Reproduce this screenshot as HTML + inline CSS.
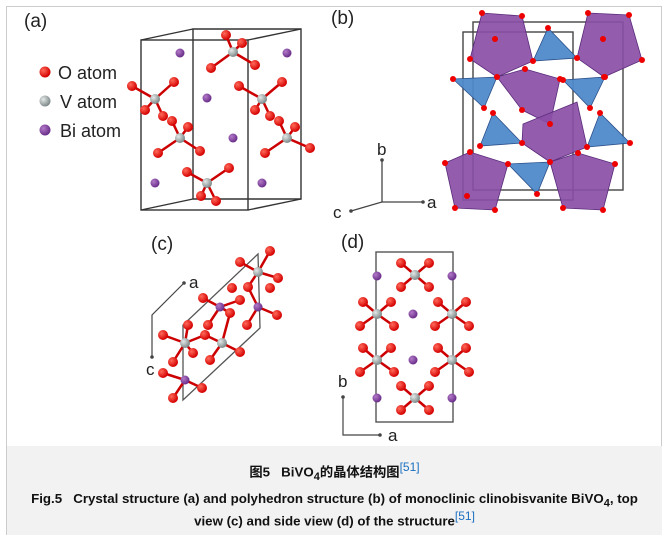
<!DOCTYPE html>
<html><head><meta charset="utf-8"><style>
body{margin:0;background:#fff;width:669px;height:542px;overflow:hidden;font-family:"Liberation Sans","Noto Sans CJK SC",sans-serif}
.frame{position:absolute;left:6px;top:6px;width:656px;height:529px;border:1px solid #ccc;box-sizing:border-box}
.cap{position:absolute;left:7px;top:446px;width:655px;height:89px;background:#f2f2f2}
.t{position:absolute;left:0;width:655px;text-align:center;font-weight:bold;font-size:13.3px;color:#111;white-space:nowrap}
sup{color:#1a6fc0;font-weight:normal;font-size:12px}
</style></head><body>
<div class="frame"></div>
<svg width="669" height="446" style="position:absolute;left:0;top:0" font-family="Liberation Sans, sans-serif">
<defs>
<radialGradient id="o" cx="35%" cy="35%" r="65%"><stop offset="0" stop-color="#ff6a5a"/><stop offset="1" stop-color="#d40000"/></radialGradient>
<radialGradient id="v" cx="35%" cy="35%" r="65%"><stop offset="0" stop-color="#e4e8e8"/><stop offset="1" stop-color="#7f8a8a"/></radialGradient>
<radialGradient id="b" cx="35%" cy="35%" r="65%"><stop offset="0" stop-color="#b27ac8"/><stop offset="1" stop-color="#6a2e8a"/></radialGradient>
</defs>
<!-- panel a -->
<text x="24" y="27" font-size="19" fill="#222">(a)</text>
<circle cx="45" cy="72" r="5.5" fill="url(#o)"/><text x="58" y="79" font-size="18" fill="#222">O atom</text>
<circle cx="45" cy="101" r="5.5" fill="url(#v)"/><text x="60" y="108" font-size="18" fill="#222">V atom</text>
<circle cx="45" cy="130" r="5.5" fill="url(#b)"/><text x="60" y="137" font-size="18" fill="#222">Bi atom</text>
<g stroke="#333" stroke-width="1.4" fill="none">
<rect x="141" y="40" width="107" height="170"/>
<polyline points="193,199 193,29 301,29 301,199 193,199"/>
<line x1="141" y1="40" x2="193" y2="29"/><line x1="248" y1="40" x2="301" y2="29"/>
<line x1="141" y1="210" x2="193" y2="199"/><line x1="248" y1="210" x2="301" y2="199"/>
</g>
<g fill="url(#b)"><circle cx="180" cy="53" r="4.5"/><circle cx="287" cy="53" r="4.5"/><circle cx="207" cy="98" r="4.5"/><circle cx="233" cy="138" r="4.5"/><circle cx="155" cy="183" r="4.5"/><circle cx="262" cy="183" r="4.5"/></g>
<g stroke="#c00" stroke-width="2.5">
<path d="M233 52L226 35M233 52L242 43M233 52L211 68M233 52L255 65"/>
<path d="M155 99L132 86M155 99L174 82M155 99L145 110M155 99L163 116"/>
<path d="M180 138L188 127M180 138L158 153M180 138L200 151M180 138L172 121"/>
<path d="M262 99L239 86M262 99L282 82M262 99L255 110M262 99L270 116"/>
<path d="M287 138L295 127M287 138L265 153M287 138L310 148M287 138L279 121"/>
<path d="M207 183L187 172M207 183L229 168M207 183L201 196M207 183L216 201"/>
</g>
<g fill="url(#o)">
<circle cx="226" cy="35" r="5"/><circle cx="242" cy="43" r="5"/><circle cx="211" cy="68" r="5"/><circle cx="255" cy="65" r="5"/>
<circle cx="132" cy="86" r="5"/><circle cx="174" cy="82" r="5"/><circle cx="145" cy="110" r="5"/><circle cx="163" cy="116" r="5"/><circle cx="172" cy="121" r="5"/>
<circle cx="188" cy="127" r="5"/><circle cx="158" cy="153" r="5"/><circle cx="200" cy="151" r="5"/>
<circle cx="239" cy="86" r="5"/><circle cx="282" cy="82" r="5"/><circle cx="255" cy="110" r="5"/><circle cx="270" cy="116" r="5"/><circle cx="279" cy="121" r="5"/>
<circle cx="295" cy="127" r="5"/><circle cx="265" cy="153" r="5"/><circle cx="310" cy="148" r="5"/>
<circle cx="187" cy="172" r="5"/><circle cx="229" cy="168" r="5"/><circle cx="201" cy="196" r="5"/><circle cx="216" cy="201" r="5"/>
</g>
<g fill="url(#v)"><circle cx="233" cy="52" r="5"/><circle cx="155" cy="99" r="5"/><circle cx="180" cy="138" r="5"/><circle cx="262" cy="99" r="5"/><circle cx="287" cy="138" r="5"/><circle cx="207" cy="183" r="5"/></g>

<!-- panel b -->
<text x="331" y="24" font-size="19" fill="#222">(b)</text>
<g stroke="#444" stroke-width="1.4" fill="none">
<rect x="463" y="32" width="110" height="168"/>
<rect x="473" y="22" width="150" height="168"/>
</g>
<g stroke="#5a2a7a" stroke-width="0.8" fill="#8a4ea6" fill-opacity="0.92">
<polygon points="482,13 522,16 533,61 497,77 470,59"/>
<polygon points="588,13 629,15 642,60 604,77 577,58"/>
<polygon points="525,69 560,79 550,124 522,110 497,77"/>
<polygon points="577,102 587,147 550,162 522,143 523,124"/>
<polygon points="445,163 470,152 508,164 495,210 455,208"/>
<polygon points="550,162 578,153 615,164 603,210 563,208"/>
</g>
<g stroke="#2a4f8a" stroke-width="0.8" fill="#4f8acb" fill-opacity="0.95">
<polygon points="533,61 548,28 577,58"/>
<polygon points="453,79 497,77 484,108"/>
<polygon points="563,80 605,77 590,108"/>
<polygon points="493,113 522,143 480,146"/>
<polygon points="600,113 630,143 587,147"/>
<polygon points="508,164 550,162 537,194"/>
</g>
<g fill="#e00">
<circle cx="482" cy="13" r="3"/><circle cx="522" cy="16" r="3"/><circle cx="533" cy="61" r="3"/><circle cx="497" cy="77" r="3"/><circle cx="470" cy="59" r="3"/><circle cx="495" cy="39" r="3"/>
<circle cx="588" cy="13" r="3"/><circle cx="629" cy="15" r="3"/><circle cx="642" cy="60" r="3"/><circle cx="604" cy="77" r="3"/><circle cx="577" cy="58" r="3"/><circle cx="603" cy="39" r="3"/>
<circle cx="525" cy="69" r="3"/><circle cx="560" cy="79" r="3"/><circle cx="522" cy="110" r="3"/><circle cx="548" cy="28" r="3"/>
<circle cx="453" cy="79" r="3"/><circle cx="484" cy="108" r="3"/><circle cx="563" cy="80" r="3"/><circle cx="605" cy="77" r="3"/><circle cx="590" cy="108" r="3"/>
<circle cx="493" cy="113" r="3"/><circle cx="522" cy="143" r="3"/><circle cx="480" cy="146" r="3"/><circle cx="550" cy="124" r="3"/>
<circle cx="600" cy="113" r="3"/><circle cx="630" cy="143" r="3"/><circle cx="587" cy="147" r="3"/>
<circle cx="445" cy="163" r="3"/><circle cx="470" cy="152" r="3"/><circle cx="508" cy="164" r="3"/><circle cx="495" cy="210" r="3"/><circle cx="455" cy="208" r="3"/><circle cx="467" cy="196" r="3"/>
<circle cx="550" cy="162" r="3"/><circle cx="578" cy="153" r="3"/><circle cx="615" cy="164" r="3"/><circle cx="603" cy="210" r="3"/><circle cx="563" cy="208" r="3"/><circle cx="537" cy="194" r="3"/>
</g>
<g stroke="#444" stroke-width="1.3"><line x1="382" y1="202" x2="382" y2="160"/><line x1="382" y1="202" x2="423" y2="202"/><line x1="382" y1="202" x2="351" y2="211"/></g>
<g fill="#444"><circle cx="382" cy="160" r="1.8"/><circle cx="423" cy="202" r="1.8"/><circle cx="351" cy="211" r="1.8"/></g>
<text x="377" y="155" font-size="17" fill="#222">b</text>
<text x="427" y="208" font-size="17" fill="#222">a</text>
<text x="333" y="218" font-size="17" fill="#222">c</text>

<!-- panel c -->
<text x="151" y="250" font-size="19" fill="#222">(c)</text>
<polygon points="258,254 183,325 183,400 260,328" fill="none" stroke="#555" stroke-width="1.3"/>
<polyline points="184,283 152,315 152,357" fill="none" stroke="#444" stroke-width="1.2"/>
<circle cx="184" cy="283" r="1.8" fill="#444"/><circle cx="152" cy="357" r="1.8" fill="#444"/>
<text x="189" y="288" font-size="17" fill="#222">a</text>
<text x="146" y="375" font-size="17" fill="#222">c</text>
<g stroke="#c00" stroke-width="2.5">
<path d="M258 272L270 251M258 272L240 262M258 272L278 278M258 272L248 287"/>
<path d="M220 307L203 298M220 307L240 300M220 307L230 313M220 307L208 325M258 307L277 315M258 307L247 325M258 307L248 287"/>
<path d="M185 343L163 335M185 343L205 335M185 343L193 353M185 343L173 362M185 343L188 325"/>
<path d="M222 343L240 352M222 343L210 360M222 343L205 335M222 343L230 313"/>
<path d="M185 380L163 373M185 380L202 388M185 380L173 398"/>
</g>
<g fill="url(#o)">
<circle cx="270" cy="251" r="5"/><circle cx="240" cy="262" r="5"/><circle cx="278" cy="278" r="5"/><circle cx="248" cy="287" r="5"/><circle cx="270" cy="288" r="5"/><circle cx="232" cy="288" r="5"/>
<circle cx="203" cy="298" r="5"/><circle cx="240" cy="300" r="5"/><circle cx="230" cy="313" r="5"/><circle cx="277" cy="315" r="5"/><circle cx="208" cy="325" r="5"/><circle cx="247" cy="325" r="5"/>
<circle cx="188" cy="325" r="5"/><circle cx="163" cy="335" r="5"/><circle cx="205" cy="335" r="5"/><circle cx="193" cy="353" r="5"/><circle cx="240" cy="352" r="5"/><circle cx="173" cy="362" r="5"/>
<circle cx="210" cy="360" r="5"/><circle cx="163" cy="373" r="5"/><circle cx="202" cy="388" r="5"/><circle cx="173" cy="398" r="5"/>
</g>
<g fill="url(#v)"><circle cx="258" cy="272" r="5"/><circle cx="185" cy="343" r="5"/><circle cx="222" cy="343" r="5"/></g>
<g fill="url(#b)"><circle cx="220" cy="307" r="4.5"/><circle cx="258" cy="307" r="4.5"/><circle cx="185" cy="380" r="4.5"/></g>

<!-- panel d -->
<text x="341" y="248" font-size="19" fill="#222">(d)</text>
<rect x="376" y="252" width="77" height="170" fill="none" stroke="#555" stroke-width="1.4"/>
<polyline points="343,397 343,435 380,435" fill="none" stroke="#444" stroke-width="1.2"/>
<circle cx="343" cy="397" r="1.8" fill="#444"/><circle cx="380" cy="435" r="1.8" fill="#444"/>
<text x="338" y="387" font-size="17" fill="#222">b</text>
<text x="388" y="441" font-size="17" fill="#222">a</text>
<g stroke="#c00" stroke-width="2.5">
<path d="M415 275l-14 -12M415 275l14 -12M415 275l-14 12M415 275l14 12"/>
<path d="M377 314l-14 -12M377 314l14 -12M377 314l-17 12M377 314l17 12"/>
<path d="M452 314l-14 -12M452 314l14 -12M452 314l-17 12M452 314l17 12"/>
<path d="M377 360l-14 -12M377 360l14 -12M377 360l-17 12M377 360l17 12"/>
<path d="M452 360l-14 -12M452 360l14 -12M452 360l-17 12M452 360l17 12"/>
<path d="M415 398l-14 -12M415 398l14 -12M415 398l-14 12M415 398l14 12"/>
</g>
<g fill="url(#o)">
<circle cx="401" cy="263" r="5"/><circle cx="429" cy="263" r="5"/><circle cx="401" cy="287" r="5"/><circle cx="429" cy="287" r="5"/>
<circle cx="363" cy="302" r="5"/><circle cx="391" cy="302" r="5"/><circle cx="360" cy="326" r="5"/><circle cx="394" cy="326" r="5"/>
<circle cx="438" cy="302" r="5"/><circle cx="466" cy="302" r="5"/><circle cx="435" cy="326" r="5"/><circle cx="469" cy="326" r="5"/>
<circle cx="363" cy="348" r="5"/><circle cx="391" cy="348" r="5"/><circle cx="360" cy="372" r="5"/><circle cx="394" cy="372" r="5"/>
<circle cx="438" cy="348" r="5"/><circle cx="466" cy="348" r="5"/><circle cx="435" cy="372" r="5"/><circle cx="469" cy="372" r="5"/>
<circle cx="401" cy="386" r="5"/><circle cx="429" cy="386" r="5"/><circle cx="401" cy="410" r="5"/><circle cx="429" cy="410" r="5"/>
</g>
<g fill="url(#v)"><circle cx="415" cy="275" r="5"/><circle cx="377" cy="314" r="5"/><circle cx="452" cy="314" r="5"/><circle cx="377" cy="360" r="5"/><circle cx="452" cy="360" r="5"/><circle cx="415" cy="398" r="5"/></g>
<g fill="url(#b)"><circle cx="377" cy="276" r="4.5"/><circle cx="452" cy="276" r="4.5"/><circle cx="413" cy="314" r="4.5"/><circle cx="413" cy="360" r="4.5"/><circle cx="377" cy="398" r="4.5"/><circle cx="452" cy="398" r="4.5"/></g>
</svg>
<div class="cap">
<div class="t" style="top:14px">图5&nbsp;&nbsp; BiVO<sub style="font-size:11px">4</sub>的晶体结构图<sup>[51]</sup></div>
<div class="t" style="top:45px">Fig.5&nbsp;&nbsp; Crystal structure (a) and polyhedron structure (b) of monoclinic clinobisvanite BiVO<sub style="font-size:11px">4</sub>, top</div>
<div class="t" style="top:63px">view (c) and side view (d) of the structure<sup>[51]</sup></div>
</div>
</body></html>
